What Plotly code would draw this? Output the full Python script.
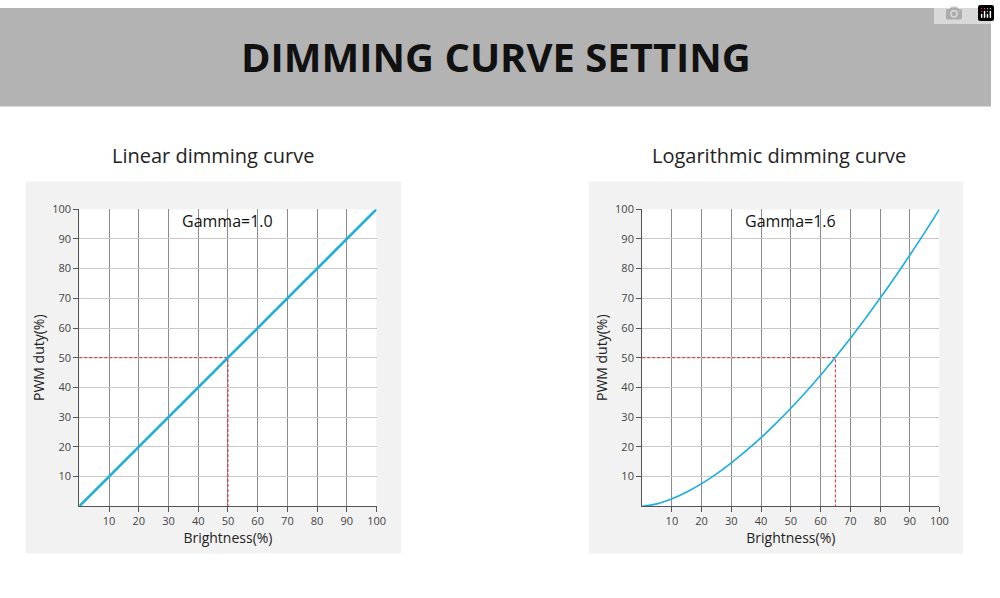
import plotly.graph_objects as go

# brightness (%) and PWM duty (%)
brightness = [0, 10, 20, 30, 40, 50, 60, 70, 80, 90, 100]
linear_duty = [0, 10, 20, 30, 40, 50, 60, 70, 80, 90, 100]
log_brightness = [0, 5, 10, 15, 20, 25, 30, 35, 40, 45, 50, 55, 60, 65, 70, 75, 80, 85, 90, 95, 100]
log_duty = [0, 0.8, 2.5, 4.8, 7.6, 10.9, 14.6, 18.7, 23.1, 27.9, 33.0, 38.4, 44.1, 50.2, 56.5, 63.1, 70.0, 77.1, 84.5, 92.1, 100]
marker_linear = (50, 50)
marker_log = (65, 50)
tick_vals = [10, 20, 30, 40, 50, 60, 70, 80, 90, 100]

FONT = "Open Sans"
BLUE = "#1aaee0"
RED = "#e0262c"

fig = go.Figure()

# background panels
fig.add_shape(type="rect", xref="paper", yref="paper", x0=0, x1=1, y0=0.833, y1=1,
              fillcolor="#b3b3b3", line_width=0, layer="below")
for x0, x1 in [(0.026, 0.405), (0.594, 0.972)]:
    fig.add_shape(type="rect", xref="paper", yref="paper", x0=x0, x1=x1, y0=0.0753, y1=0.706,
                  fillcolor="#f2f2f2", line_width=0, layer="below")
# white plot areas on top of the grey panels
for xa, ya in [("x", "y"), ("x2", "y2")]:
    fig.add_shape(type="rect", xref=xa, yref=ya, x0=0, x1=100, y0=0, y1=100,
                  fillcolor="white", line_width=0, layer="below")

panels = [
    ("x", "y", brightness, linear_duty, marker_linear, "Gamma=1.0"),
    ("x2", "y2", log_brightness, log_duty, marker_log, "Gamma=1.6"),
]
for xa, ya, xs, ys, (mx, my), label in panels:
    fig.add_trace(go.Scatter(x=[0, mx, mx], y=[my, my, 0], xaxis=xa, yaxis=ya, mode="lines",
                             line=dict(color=RED, width=1, dash="3px,2px"), hoverinfo="skip"))
    fig.add_trace(go.Scatter(x=xs, y=ys, xaxis=xa, yaxis=ya, mode="lines",
                             line=dict(color=BLUE, width=2.5 if xa == "x" else 1.6, shape="spline")))
    fig.add_annotation(x=50, y=96, xref=xa, yref=ya, text=label, showarrow=False,
                       xanchor="center", yanchor="middle",
                       font=dict(family=FONT, size=16, color="#111"))

axis_common = dict(range=[0, 100], tickvals=tick_vals, ticks="outside", ticklen=5,
                   tickcolor="#555", showline=True, linecolor="#555", linewidth=1,
                   tickfont=dict(family=FONT, size=11, color="#444"), zeroline=False,
                   fixedrange=True)
xaxis = dict(axis_common, gridcolor="#8c8c8c", gridwidth=1,
             title=dict(text="Brightness(%)", font=dict(family=FONT, size=14, color="#222"), standoff=4))
yaxis = dict(axis_common, gridcolor="#c8c8c8", gridwidth=1,
             title=dict(text="PWM duty(%)", font=dict(family=FONT, size=14, color="#222"), standoff=4))

fig.update_layout(
    width=1000, height=598, margin=dict(l=0, r=0, t=0, b=0),
    paper_bgcolor="white", plot_bgcolor="white", showlegend=False,
    xaxis=dict(xaxis, domain=[0.08, 0.38], anchor="y"),
    yaxis=dict(yaxis, domain=[0.1555, 0.659], anchor="x"),
    xaxis2=dict(xaxis, domain=[0.648, 0.948], anchor="y2"),
    yaxis2=dict(yaxis, domain=[0.1555, 0.659], anchor="x2"),
)

fig.add_annotation(x=0.5, y=0.917, xref="paper", yref="paper", text="<b>DIMMING CURVE SETTING</b>",
                   showarrow=False, xanchor="center", yanchor="middle",
                   font=dict(family=FONT, size=40, color="#111"))
for cx, t in [(0.215, "Linear dimming curve"), (0.786, "Logarithmic dimming curve")]:
    fig.add_annotation(x=cx, y=0.75, xref="paper", yref="paper", text=t, showarrow=False,
                       xanchor="center", yanchor="middle",
                       font=dict(family=FONT, size=20, color="#222"))

fig.write_html("out.html", post_script="document.body.style.margin='0';")
